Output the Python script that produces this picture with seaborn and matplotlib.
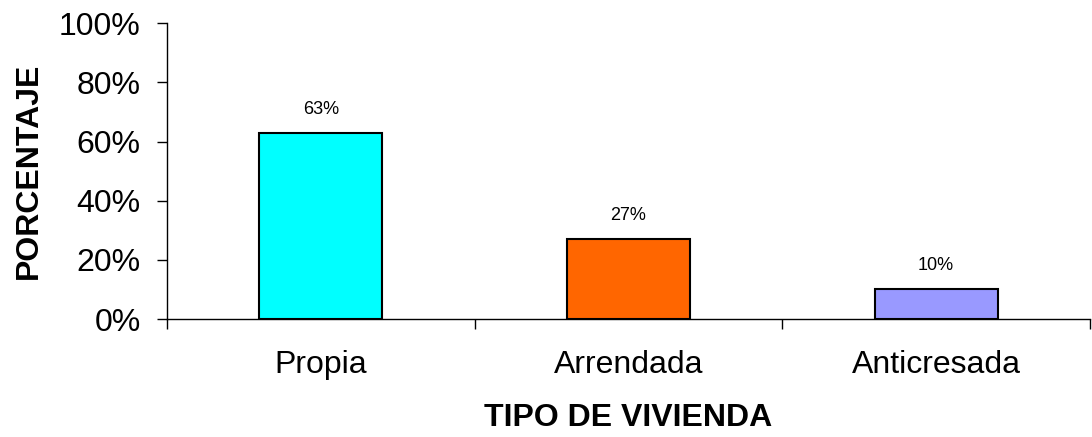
import numpy as np
import pandas as pd
import matplotlib
matplotlib.use("Agg")
import matplotlib.pyplot as plt
from matplotlib.ticker import FixedLocator, PercentFormatter
import seaborn as sns

# datos del grafico
categorias = ["Propia", "Arrendada", "Anticresada"]
porcentajes = [63, 27, 10]
colores = ["#00FFFF", "#FF6600", "#9999FF"]
yticks = [0, 20, 40, 60, 80, 100]

df = pd.DataFrame({"tipo": categorias, "pct": porcentajes})

sns.set_style("white")
plt.rcParams["font.family"] = ["Liberation Sans", "DejaVu Sans"]
plt.rcParams["text.color"] = "black"
plt.rcParams["axes.labelcolor"] = "black"
plt.rcParams["xtick.color"] = "black"
plt.rcParams["ytick.color"] = "black"

fig = plt.figure(figsize=(10.92, 4.37), dpi=100)
ax = fig.add_axes([0.153, 0.27, 0.845, 0.677])

sns.barplot(data=df, x="tipo", y="pct", hue="tipo", palette=colores, saturation=1,
            width=0.4, edgecolor="black", linewidth=1.5, legend=False, ax=ax)

# etiquetas de valor
for i, v in enumerate(porcentajes):
    ax.annotate(f"{v}%", (i, v), xytext=(0, 17), textcoords="offset points",
                ha="center", va="center", fontsize=13, color="black")

ax.set_xlim(-0.5, len(categorias) - 0.5)
ax.set_ylim(0, 100)
ax.set_yticks(yticks)
ax.yaxis.set_major_formatter(PercentFormatter(decimals=0))
ax.tick_params(axis="y", which="major", length=7, width=1, labelsize=23, pad=12,
               color="black", labelcolor="black", left=True)
ax.tick_params(axis="x", which="major", length=0, labelsize=23, pad=22, labelcolor="black")
ax.xaxis.set_minor_locator(FixedLocator(np.arange(-0.5, len(categorias), 1.0)))
ax.tick_params(axis="x", which="minor", length=7, width=1, color="black", bottom=True)

for s in ["top", "right"]:
    ax.spines[s].set_visible(False)
for s in ["left", "bottom"]:
    ax.spines[s].set_color("black")
    ax.spines[s].set_linewidth(1)

ax.set_xlabel("TIPO DE VIVIENDA", fontsize=23, fontweight="bold", color="black")
ax.xaxis.set_label_coords(0.5, -0.285)
ax.set_ylabel("PORCENTAJE", fontsize=23, fontweight="bold", color="black")
ax.yaxis.set_label_coords(-0.133, 0.5)

fig.savefig("out.png", dpi=100)
